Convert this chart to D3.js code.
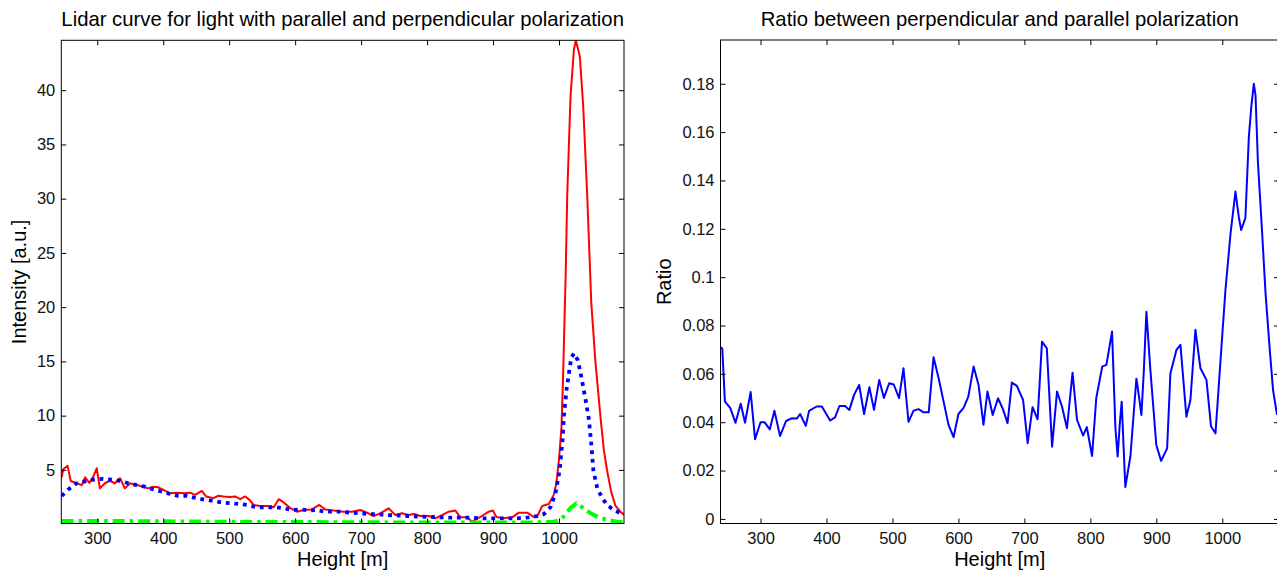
<!DOCTYPE html>
<html>
<head>
<meta charset="utf-8">
<script src="https://cdn.jsdelivr.net/npm/d3@7"></script>
<style>
  body { margin: 0; background: #fff; }
  svg { display: block; font-family: "Liberation Sans", Arial, sans-serif; }
</style>
</head>
<body>
<svg id="figure" width="1277" height="574"></svg>
<script>
// Heights [m] and intensities
const rawHeight = [246, 248.5, 255, 259.8, 269, 276.5, 281.5, 288, 294, 299.2, 304, 311.6, 319, 326.7, 334.5, 342, 349.8, 360, 367, 377,
    385, 392, 400.3, 410.4, 420.5, 430.7, 440.8, 448.4, 458.5, 465, 476, 483.8, 491.4, 501.6, 509, 516.6, 524.3, 530.8, 537, 547,
    557.5, 567.6, 575, 582.7, 592.8, 602.6, 612.9, 625.5, 636.5, 645.6, 658.2, 673.4, 686, 698.7, 708.8, 718.9, 729, 741.7, 751.8, 762,
    772, 780, 790, 802, 812.5, 822.6, 832.8, 842.9, 850.5, 860.6, 868.2, 880.8, 893.5, 900, 905, 916, 929, 939, 951.7, 961.8,
    968, 974.5, 984.6, 992, 996, 1000, 1003.8, 1006.3, 1010, 1012.4, 1017.4, 1022.5, 1025.5, 1031.6, 1036.7, 1042.8, 1048.9, 1055.4, 1063, 1068,
    1073, 1079, 1085.7, 1093, 1099];
const rawIntensity = [4.32, 5.06, 5.37, 3.98, 3.77, 3.6, 4.32, 3.8, 4.38, 5.15, 3.3, 3.77, 4.0, 3.77, 4.23, 3.3, 3.77, 3.6, 3.5, 3.3,
    3.45, 3.4, 3.15, 2.84, 2.9, 2.84, 2.9, 2.7, 3.06, 2.55, 2.4, 2.62, 2.55, 2.5, 2.55, 2.3, 2.55, 2.24, 1.77, 1.68,
    1.68, 1.56, 2.3, 2.0, 1.47, 1.15, 1.3, 1.36, 1.77, 1.36, 1.25, 1.15, 1.15, 1.3, 1.06, 0.75, 1.0, 1.46, 0.84, 1.0,
    0.85, 0.93, 0.75, 0.75, 0.54, 0.84, 1.15, 1.25, 0.63, 0.63, 0.23, 0.66, 1.15, 1.25, 0.66, 0.54, 0.63, 1.06, 1.06, 0.66,
    0.84, 1.68, 1.86, 2.7, 3.77, 6.0, 9.0, 13.9, 22.8, 30.2, 39.4, 43.7, 44.6, 43.1, 38.5, 30.2, 20.4, 14.8, 9.8, 6.8,
    4.9, 3.0, 1.68, 1.15, 0.85];

const fitHeight = [246, 256, 269, 281.5, 294, 309, 322, 334.5, 347, 360, 372.5, 385, 398, 410.4, 423, 435.6, 450.8, 463.5, 476, 488.7,
    501.6, 514, 526.7, 542, 557.5, 570, 582.7, 595, 608, 620.5, 633, 645.6, 658, 671, 683.6, 698.7, 714, 726.5, 739, 754,
    769.6, 787, 810, 835, 860.6, 886, 911, 936.5, 954, 967, 977, 987, 994.7, 1001, 1005.3, 1007.3, 1011.4, 1015, 1018.5, 1022.5,
    1028.6, 1033.7, 1040.3, 1045.4, 1049, 1052, 1058, 1065.6, 1073, 1083, 1096];
const fitIntensity = [2.6, 3.2, 3.77, 3.95, 4.1, 4.17, 4.1, 4.0, 3.77, 3.6, 3.45, 3.2, 3.0, 2.78, 2.6, 2.6, 2.4, 2.24, 2.15, 2.0,
    1.93, 1.87, 1.77, 1.56, 1.56, 1.56, 1.47, 1.3, 1.36, 1.25, 1.3, 1.15, 1.15, 1.15, 1.06, 1.0, 0.93, 0.9, 0.84, 0.8,
    0.75, 0.7, 0.66, 0.6, 0.6, 0.54, 0.54, 0.54, 0.63, 0.75, 0.93, 1.56, 2.85, 5.0, 7.8, 9.9, 12.4, 13.9, 15.3, 15.75,
    15.1, 13.6, 11.45, 9.6, 7.3, 5.0, 3.3, 2.4, 1.77, 1.3, 0.94];

const perpHeight = [246, 300, 350, 400, 450, 500, 550, 600, 650, 700, 750, 800, 850, 900, 950, 990, 1000, 1007, 1017, 1026,
    1035, 1048, 1060, 1073, 1088, 1099];
const perpIntensity = [0.3, 0.3, 0.28, 0.26, 0.24, 0.22, 0.2, 0.2, 0.18, 0.18, 0.16, 0.16, 0.15, 0.15, 0.15, 0.2, 0.35, 0.7, 1.47, 1.93,
    1.56, 1.0, 0.63, 0.39, 0.23, 0.15];

// Ratio panel
const ratioHeight = [239.6, 242, 246, 254, 262, 270, 276.5, 285, 291.7, 300, 306, 314, 321, 329.6, 338.7, 347, 355, 360, 368.6, 373.6,
    385, 393, 405.5, 413, 419.6, 428, 434.7, 441.8, 449.5, 457, 465, 472, 480, 487, 495, 502, 510, 516.7, 524.3, 532,
    539.6, 547, 555, 562.3, 570, 585, 592.6, 600, 608, 615, 623, 630.5, 638, 644, 652, 660, 667.5, 674.5, 681, 688.6,
    698, 705, 712.4, 720, 726.7, 734, 742, 749.5, 757, 764.6, 773, 779.8, 789, 794.6, 802.6, 809, 818, 824.3, 832.9, 838,
    841.4, 844.5, 847.5, 853, 860.7, 869.8, 872, 877.4, 880.9, 885, 891, 900, 907.3, 916.4, 921.4, 930.5, 936.6, 945.6, 951.7, 959.3,
    966.9, 976, 983, 989.7, 996, 1004.8, 1012.5, 1020, 1025, 1028.6, 1035, 1040.3, 1044, 1047.8, 1050.4, 1054, 1060.5, 1065.6, 1072, 1077,
    1083];
const ratioValue = [0.071, 0.0705, 0.0485, 0.0459, 0.0398, 0.0476, 0.0398, 0.0525, 0.033, 0.040, 0.040, 0.037, 0.0447, 0.0343, 0.0405, 0.0416, 0.0415, 0.0434, 0.0385, 0.0447,
    0.0465, 0.0465, 0.0407, 0.042, 0.0467, 0.0467, 0.0451, 0.0513, 0.0554, 0.0434, 0.0545, 0.0451, 0.0575, 0.050, 0.0561, 0.0556, 0.050, 0.0623, 0.0402, 0.0448,
    0.0454, 0.0441, 0.0441, 0.0669, 0.0582, 0.0389, 0.0338, 0.0434, 0.046, 0.0506, 0.063, 0.0554, 0.0389, 0.0527, 0.043, 0.0499, 0.0454, 0.0396, 0.0564, 0.055,
    0.0492, 0.0313, 0.0462, 0.0412, 0.0733, 0.0706, 0.0299, 0.0527, 0.0465, 0.0375, 0.0605, 0.041, 0.0345, 0.038, 0.026, 0.050, 0.063, 0.0637, 0.0775, 0.0375,
    0.0258, 0.0389, 0.0485, 0.0132, 0.0258, 0.058, 0.0541, 0.043, 0.0603, 0.0857, 0.0616, 0.0306, 0.024, 0.0292, 0.0603, 0.0699, 0.072, 0.0423, 0.0492, 0.0782,
    0.0623, 0.0575, 0.0382, 0.0354, 0.0603, 0.0947, 0.118, 0.1354, 0.125, 0.1195, 0.1244, 0.158, 0.1705, 0.180, 0.1753, 0.1478, 0.118, 0.0933, 0.0699, 0.0533,
    0.043];

const heightTicks = [300, 400, 500, 600, 700, 800, 900, 1000];
const intensityTicks = [5, 10, 15, 20, 25, 30, 35, 40];
const ratioTicks = [0, 0.02, 0.04, 0.06, 0.08, 0.1, 0.12, 0.14, 0.16, 0.18];

class LidarFigure {
    constructor() {
        this.svg = d3.select('#figure');
        this.tickFont = 16.5;
        this.labelFont = 20;
    }

    // one MATLAB-like axes box with inward ticks on all four sides
    drawPanel(opts) {
        const x = d3.scaleLinear().domain(opts.xDomain).range([opts.left, opts.right]);
        const y = d3.scaleLinear().domain(opts.yDomain).range([opts.bottom, opts.top]);
        const g = this.svg.append('g');

        const clipId = opts.id + '-clip';
        g.append('clipPath').attr('id', clipId)
            .append('rect')
            .attr('x', opts.left).attr('y', opts.top)
            .attr('width', opts.right - opts.left).attr('height', opts.bottom - opts.top);

        const plot = g.append('g').attr('clip-path', `url(#${clipId})`);
        opts.series.forEach(s => {
            const pts = s.xs.map((h, i) => [h, s.ys[i]]);
            plot.append('path')
                .datum(pts)
                .attr('fill', 'none')
                .attr('stroke', s.color)
                .attr('stroke-width', s.width)
                .attr('stroke-dasharray', s.dash || null)
                .attr('stroke-linejoin', 'round')
                .attr('d', d3.line().x(d => x(d[0])).y(d => y(d[1])));
        });

        const bottomAxis = g.append('g')
            .attr('transform', `translate(0,${opts.bottom})`)
            .call(d3.axisBottom(x).tickValues(heightTicks).tickSize(-5).tickPadding(8.5).tickFormat(d3.format('d')));
        const topAxis = g.append('g')
            .attr('transform', `translate(0,${opts.top})`)
            .call(d3.axisTop(x).tickValues(heightTicks).tickSize(-5).tickFormat(''));
        const leftAxis = g.append('g')
            .attr('transform', `translate(${opts.left},0)`)
            .call(d3.axisLeft(y).tickValues(opts.yTicks).tickSize(-5).tickPadding(6).tickFormat(opts.yFormat));
        const rightAxis = g.append('g')
            .attr('transform', `translate(${opts.right},0)`)
            .call(d3.axisRight(y).tickValues(opts.yTicks).tickSize(-5).tickFormat(''));

        [bottomAxis, topAxis, leftAxis, rightAxis].forEach(a => {
            a.select('.domain').remove();
            a.selectAll('line').attr('stroke', '#000');
            a.selectAll('text')
                .attr('fill', '#111')
                .style('font-size', this.tickFont + 'px')
                .style('font-family', '"Liberation Sans", Arial, sans-serif');
        });

        g.append('rect')
            .attr('x', opts.left).attr('y', opts.top)
            .attr('width', opts.right - opts.left).attr('height', opts.bottom - opts.top)
            .attr('fill', 'none').attr('stroke', '#000').attr('stroke-width', 1);

        const cx = (opts.left + opts.right) / 2;
        g.append('text')
            .attr('x', cx).attr('y', 26)
            .attr('text-anchor', 'middle')
            .style('font-size', '20.3px')
            .text(opts.title);

        g.append('text')
            .attr('x', cx).attr('y', 566)
            .attr('text-anchor', 'middle')
            .style('font-size', this.labelFont + 'px')
            .text('Height [m]');

        g.append('text')
            .attr('transform', `translate(${opts.yLabelX},${(opts.top + opts.bottom) / 2}) rotate(-90)`)
            .attr('text-anchor', 'middle')
            .style('font-size', this.labelFont + 'px')
            .text(opts.yLabel);
    }

    render() {
        this.drawPanel({
            id: 'lidar',
            left: 61.3, right: 624, top: 40.3, bottom: 523.5,
            xDomain: [245.5, 1098.5],
            yDomain: [0.06, 44.6],
            yTicks: intensityTicks,
            yFormat: d3.format('d'),
            title: 'Lidar curve for light with parallel and perpendicular polarization',
            yLabel: 'Intensity [a.u.]',
            yLabelX: 26,
            series: [
                { xs: rawHeight, ys: rawIntensity, color: '#ff0000', width: 2 },
                { xs: fitHeight, ys: fitIntensity, color: '#0000ff', width: 3.8, dash: '3.8 4.8' },
                { xs: perpHeight, ys: perpIntensity, color: '#00ff00', width: 4, dash: '12 5 3.5 5' }
            ]
        });

        this.drawPanel({
            id: 'ratio',
            left: 720.5, right: 1279, top: 40, bottom: 523.5,
            xDomain: [239.3, 1086],
            yDomain: [-0.0019, 0.1981],
            yTicks: ratioTicks,
            yFormat: d => d === 0 ? '0' : String(+d.toFixed(2)),
            title: 'Ratio between perpendicular and parallel polarization',
            yLabel: 'Ratio',
            yLabelX: 671,
            series: [
                { xs: ratioHeight, ys: ratioValue, color: '#0000ff', width: 2 }
            ]
        });
    }
}

const figure = new LidarFigure();
figure.render();
</script>
</body>
</html>
